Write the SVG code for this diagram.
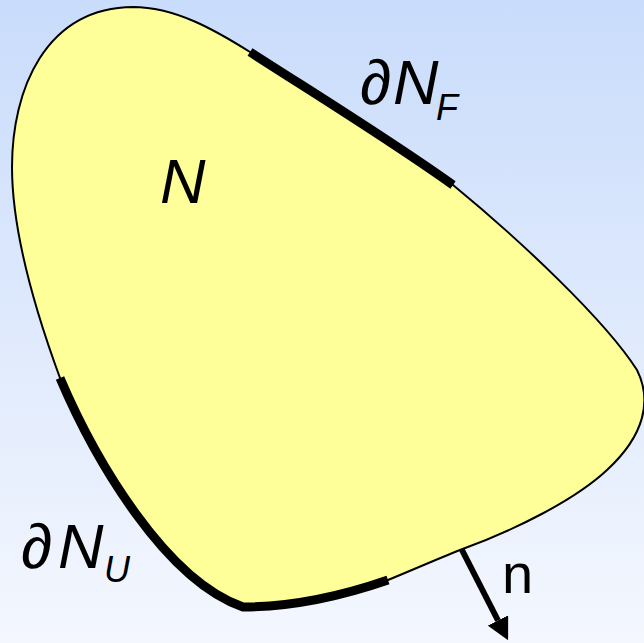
<svg xmlns="http://www.w3.org/2000/svg" width="644" height="643" viewBox="0 0 644 643">
<defs>
<linearGradient id="bg" x1="0" y1="0" x2="0" y2="1">
<stop offset="0" stop-color="#c9dcfb"/>
<stop offset="1" stop-color="#f4f7fe"/>
</linearGradient>
<marker id="ah" markerWidth="3.7" markerHeight="3.8" refX="0" refY="1.9" orient="auto" markerUnits="strokeWidth">
<path d="M0,0 L3.7,1.9 L0,3.8 Z" fill="#000"/>
</marker>
<style>
.lbl{font-family:"Liberation Sans",Arial,sans-serif;fill:#000}
.it{font-style:italic}
.thick{fill:none;stroke:#000;stroke-width:9}
</style>
</defs>
<rect width="644" height="643" fill="url(#bg)"/>
<g id="region">
<path d="M 133 7 C 175 7 215 30 250 52 C 320 97 390 140 453 185 C 520 240 605 320 637 370 C 652 400 645 435 607 470 C 575 500 515 530 460 550 C 435 560 410 571 388 580 C 330 600 280 607 243 607 C 165 580 95 460 60 378 C 35 310 12 230 12 167 C 12 90 45 8 133 7 Z" fill="#ffff99" stroke="#000" stroke-width="2"/>
<text class="lbl it" x="160" y="203" font-size="63">N</text>
</g>
<g id="boundaryF">
<path class="thick" d="M 250 52 C 320 97 390 140 453 185"/>
<text class="lbl" x="360" y="104" font-size="63">∂<tspan class="it" x="393">N</tspan><tspan class="it" x="436" y="120" font-size="36">F</tspan></text>
</g>
<g id="boundaryU">
<path class="thick" d="M 60 378 C 95 460 165 580 243 607 C 280 607 330 600 388 580"/>
<text class="lbl" x="21" y="568" font-size="63">∂<tspan class="it" x="58">N</tspan><tspan class="it" x="104" y="582" font-size="36">U</tspan></text>
</g>
<g id="connectors">
<line x1="462" y1="550" x2="498" y2="620.5" stroke="#000" stroke-width="6" marker-end="url(#ah)"/>
<text class="lbl" x="502" y="593" font-size="56">n</text>
</g>
</svg>
